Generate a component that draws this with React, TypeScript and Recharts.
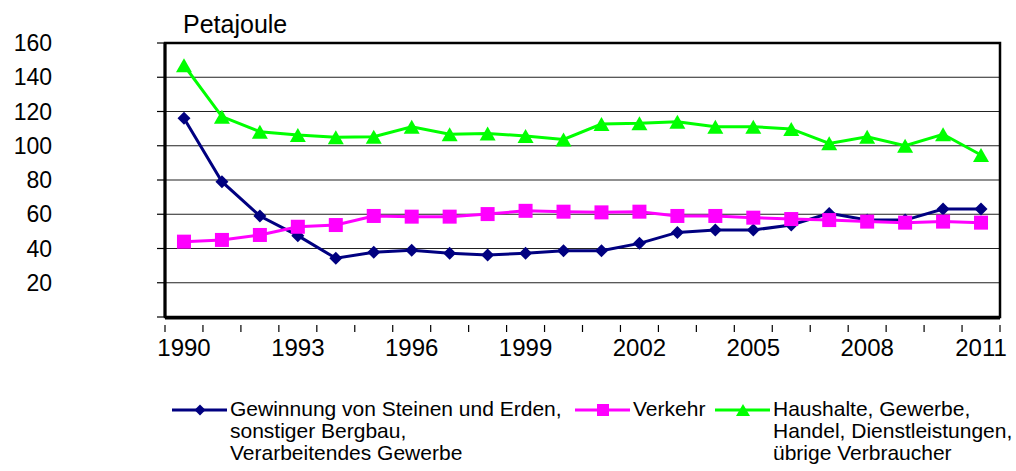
import React from "react";
import { LineChart, Line, XAxis, YAxis, CartesianGrid, ReferenceArea } from "recharts";

// Endenergieverbrauch nach Sektoren, 1990–2011 (Petajoule)
const YEARS = [
  1990, 1991, 1992, 1993, 1994, 1995, 1996, 1997, 1998, 1999, 2000,
  2001, 2002, 2003, 2004, 2005, 2006, 2007, 2008, 2009, 2010, 2011,
];
const INDUSTRY = [
  116, 79, 59, 47.5, 34.3, 37.8, 39, 37.2, 36.2, 37.2, 38.7,
  38.7, 43, 49.4, 50.8, 50.8, 53.7, 60.5, 56.6, 56.6, 63, 63,
];
const TRANSPORT = [
  44, 45, 47.9, 52.7, 53.7, 59, 58.6, 58.6, 60.1, 62, 61.5,
  61.1, 61.5, 59, 59, 58, 57.2, 56.6, 55.7, 55.1, 55.7, 55.1,
];
const HOUSEHOLDS = [
  147, 117, 108.2, 106.3, 104.9, 105.3, 111.1, 106.7, 107.2, 105.7, 103.7,
  112.7, 113.1, 114, 111.1, 111.1, 109.8, 101.4, 105.3, 100, 106.7, 94.6,
];

const Y_TICKS = [0, 20, 40, 60, 80, 100, 120, 140, 160];
const X_LABELS = [1990, 1993, 1996, 1999, 2002, 2005, 2008, 2011];
const UNIT = "Petajoule";

type Marker = "diamond" | "square" | "triangle";

const SERIES: { key: string; values: number[]; color: string; marker: Marker; label: string[] }[] = [
  {
    key: "industry",
    values: INDUSTRY,
    color: "#000080",
    marker: "diamond",
    label: ["Gewinnung von Steinen und Erden,", "sonstiger Bergbau,", "Verarbeitendes Gewerbe"],
  },
  { key: "transport", values: TRANSPORT, color: "#FF00FF", marker: "square", label: ["Verkehr"] },
  {
    key: "households",
    values: HOUSEHOLDS,
    color: "#00FF00",
    marker: "triangle",
    label: ["Haushalte, Gewerbe,", "Handel, Dienstleistungen,", "übrige Verbraucher"],
  },
];

const data = YEARS.map((year, i) => {
  const row: Record<string, number> = { year };
  SERIES.forEach((s) => (row[s.key] = s.values[i]));
  return row;
});

// category boundaries for the small tick marks under the axis
const X_BOUNDS = [...YEARS.map((y) => y - 0.5), YEARS[YEARS.length - 1] + 0.5];
const X_DOMAIN: [number, number] = [X_BOUNDS[0], X_BOUNDS[X_BOUNDS.length - 1]];

function MarkerShape({ cx, cy, color, marker, size }: { cx: number; cy: number; color: string; marker: Marker; size: number }) {
  const h = size / 2;
  if (marker === "diamond")
    return <polygon points={`${cx},${cy - h} ${cx + h},${cy} ${cx},${cy + h} ${cx - h},${cy}`} fill={color} />;
  if (marker === "square") return <rect x={cx - h} y={cy - h} width={size} height={size} fill={color} />;
  return <polygon points={`${cx},${cy - h} ${cx + h + 1},${cy + h} ${cx - h - 1},${cy + h}`} fill={color} />;
}

// tick mark only, no text
function BoundTick(props: any) {
  const { x, y } = props;
  return <line x1={x} y1={y} x2={x} y2={y + 7} stroke="#000" strokeWidth={1.2} />;
}

function LegendBox() {
  const starts = [172, 575, 715];
  return (
    <>
      {SERIES.map((s, i) => (
        <div
          key={s.key}
          style={{ position: "absolute", left: starts[i], top: 398, display: "flex", alignItems: "flex-start" }}
        >
          <svg width={56} height={22} style={{ flex: "none" }}>
            <line x1={0} y1={12} x2={55} y2={12} stroke={s.color} strokeWidth={3} />
            <MarkerShape cx={28} cy={12} color={s.color} marker={s.marker} size={s.marker === "diamond" ? 11 : 12} />
          </svg>
          <div style={{ fontSize: 21, lineHeight: "22px", marginLeft: 2, whiteSpace: "nowrap" }}>
            {s.label.map((l) => (
              <div key={l}>{l}</div>
            ))}
          </div>
        </div>
      ))}
    </>
  );
}

export default function App() {
  return (
    <div
      style={{
        position: "absolute",
        left: 0,
        top: 0,
        width: 1016,
        height: 471,
        background: "#fff",
        color: "#000",
        fontFamily: "'Liberation Sans', Arial, sans-serif",
      }}
    >
      <div style={{ position: "absolute", left: 183, top: 12, fontSize: 25, lineHeight: "25px" }}>{UNIT}</div>
      <LineChart width={1016} height={471} data={data} margin={{ top: 43, right: 16, bottom: 152, left: 0 }}>
        <CartesianGrid vertical={false} stroke="#222" strokeWidth={1.2} />
        <XAxis
          xAxisId="bounds"
          dataKey="year"
          type="number"
          domain={X_DOMAIN}
          allowDataOverflow
          ticks={X_BOUNDS}
          interval={0}
          height={1}
          tick={<BoundTick />}
          tickSize={7}
          tickMargin={0}
          tickLine={false}
          axisLine={{ stroke: "#000", strokeWidth: 3 }}
        />
        <XAxis
          dataKey="year"
          type="number"
          domain={X_DOMAIN}
          allowDataOverflow
          ticks={X_LABELS}
          interval={0}
          height={1}
          tickLine={false}
          axisLine={false}
          tickSize={7}
          tickMargin={15}
          tick={{ fontSize: 24, fill: "#000" }}
        />
        <YAxis
          domain={[0, 160]}
          ticks={Y_TICKS}
          interval={0}
          width={165}
          tickSize={8}
          tickMargin={105}
          tickFormatter={(v: number) => (v === 0 ? "" : String(v))}
          tick={{ fontSize: 23, fill: "#000" }}
          tickLine={{ stroke: "#000", strokeWidth: 1.2 }}
          axisLine={{ stroke: "#000", strokeWidth: 3 }}
        />
        <ReferenceArea x1={X_DOMAIN[0]} x2={X_DOMAIN[1]} y1={0} y2={160} fill="none" stroke="#000" strokeWidth={2.5} />
        {SERIES.map((s) => (
          <Line
            key={s.key}
            dataKey={s.key}
            type="linear"
            stroke={s.color}
            strokeWidth={3}
            isAnimationActive={false}
            activeDot={false}
            dot={(p: any) => (
              <MarkerShape
                key={`${s.key}-${p.index}`}
                cx={p.cx}
                cy={p.cy}
                color={s.color}
                marker={s.marker}
                size={s.marker === "diamond" ? 13 : 14}
              />
            )}
          />
        ))}
      </LineChart>
      <LegendBox />
    </div>
  );
}
